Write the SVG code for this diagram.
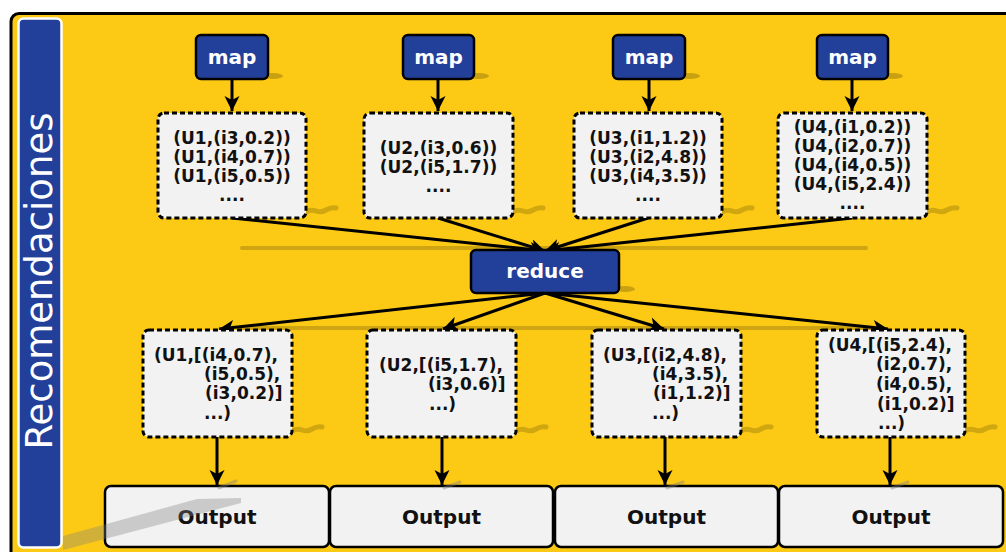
<svg xmlns="http://www.w3.org/2000/svg" width="1006" height="552" viewBox="0 0 1006 552">
<defs>
<marker id="ah" viewBox="-15 -8 17 16" markerWidth="17" markerHeight="16" refX="0" refY="0" orient="auto" markerUnits="userSpaceOnUse">
<path d="M0,0 L-15,-7.5 L-11,0 L-15,7.5 Z" fill="#000"/>
</marker>
<style>
.fn{fill:#22409A;stroke:#000;stroke-width:2.5}
.ft{font-family:"DejaVu Sans",Verdana,sans-serif;font-weight:bold;font-size:20px;fill:#fff;text-anchor:middle}
.db{fill:#F2F2F2;stroke:#000;stroke-width:3;stroke-dasharray:5 3}
.dt{font-family:"DejaVu Sans",Verdana,sans-serif;font-weight:bold;font-size:17px;fill:#111}
.mid{text-anchor:middle}
.ob{fill:#F2F2F2;stroke:#000;stroke-width:2.5}
.ot{font-family:"DejaVu Sans",Verdana,sans-serif;font-weight:bold;font-size:20px;fill:#111;text-anchor:middle}
.cn{stroke:#000;stroke-width:3;fill:none;marker-end:url(#ah)}
.sh{fill:#000;fill-opacity:0.2}
.wv{fill:none;stroke:#000;stroke-opacity:0.17;stroke-width:5;stroke-linecap:round}
.gl{stroke:#000;stroke-opacity:0.18;stroke-width:4;stroke-linecap:round}
</style>
</defs>
<rect width="1006" height="552" fill="#fff"/>
<rect x="11" y="13.5" width="1010" height="560" rx="8" fill="#FCC914" stroke="#000" stroke-width="3"/>
<g id="sidebar">
<rect x="18.5" y="18.5" width="43" height="529" rx="5" fill="#22409A" stroke="#fff" stroke-width="2.5"/>
<text transform="translate(52,281) rotate(-90)" font-family="'DejaVu Sans',Verdana,sans-serif" font-size="37" fill="#fff" text-anchor="middle">Recomendaciones</text>
</g>
<g id="shadows">
<line class="gl" x1="242" y1="248" x2="866" y2="248"/>
<line class="gl" x1="240" y1="328" x2="872" y2="328"/>
<ellipse class="sh" cx="273" cy="76" rx="10" ry="3"/>
<ellipse class="sh" cx="479" cy="76" rx="10" ry="3"/>
<ellipse class="sh" cx="690" cy="76" rx="10" ry="3"/>
<ellipse class="sh" cx="893" cy="76" rx="10" ry="3"/>
<path class="wv" d="M306,212 q5,-3 10,-1 t10,-1 t10,-2"/>
<path class="wv" d="M513,212 q5,-3 10,-1 t10,-1 t10,-2"/>
<path class="wv" d="M722,212 q5,-3 10,-1 t10,-1 t10,-2"/>
<path class="wv" d="M927,212 q5,-3 10,-1 t10,-1 t10,-2"/>
<ellipse class="sh" cx="625" cy="289" rx="10" ry="3"/>
<path class="wv" d="M292,431 q5,-3 10,-1 t10,-1 t10,-2"/>
<path class="wv" d="M516,431 q5,-3 10,-1 t10,-1 t10,-2"/>
<path class="wv" d="M741,431 q5,-3 10,-1 t10,-1 t10,-2"/>
<path class="wv" d="M965,431 q5,-3 10,-1 t10,-1 t10,-2"/>
</g>
<g id="connectors">
<line class="cn" x1="232" y1="79" x2="232" y2="111"/>
<line class="cn" x1="438" y1="79" x2="438" y2="111"/>
<line class="cn" x1="649" y1="79" x2="649" y2="111"/>
<line class="cn" x1="852" y1="79" x2="852" y2="111"/>
<line class="cn" x1="232" y1="218" x2="545" y2="251"/>
<line class="cn" x1="438" y1="218" x2="545" y2="251"/>
<line class="cn" x1="648" y1="218" x2="545" y2="251"/>
<line class="cn" x1="852" y1="218" x2="545" y2="251"/>
<line class="cn" x1="545" y1="293" x2="219" y2="329"/>
<line class="cn" x1="545" y1="293" x2="443" y2="329"/>
<line class="cn" x1="545" y1="293" x2="664" y2="329"/>
<line class="cn" x1="545" y1="293" x2="888" y2="329"/>
<line class="cn" x1="217" y1="437" x2="217" y2="485"/>
<line class="cn" x1="442" y1="437" x2="442" y2="485"/>
<line class="cn" x1="665" y1="437" x2="665" y2="485"/>
<line class="cn" x1="890" y1="437" x2="890" y2="485"/>
</g>
<g id="map1"><rect class="fn" x="196" y="35" width="72" height="44" rx="5"/><text class="ft" x="232" y="64">map</text></g>
<g id="map2"><rect class="fn" x="403" y="35" width="71" height="44" rx="5"/><text class="ft" x="438.5" y="64">map</text></g>
<g id="map3"><rect class="fn" x="613" y="35" width="72" height="44" rx="5"/><text class="ft" x="649" y="64">map</text></g>
<g id="map4"><rect class="fn" x="817" y="35" width="71" height="44" rx="5"/><text class="ft" x="852.5" y="64">map</text></g>
<g id="data1"><rect class="db" x="158" y="113" width="148" height="105" rx="6"/>
<text class="dt mid" x="232" y="144">(U1,(i3,0.2))</text>
<text class="dt mid" x="232" y="163">(U1,(i4,0.7))</text>
<text class="dt mid" x="232" y="182">(U1,(i5,0.5))</text>
<text class="dt mid" x="232" y="201">....</text></g>
<g id="data2"><rect class="db" x="364" y="113" width="149" height="105" rx="6"/>
<text class="dt mid" x="438.5" y="154">(U2,(i3,0.6))</text>
<text class="dt mid" x="438.5" y="173">(U2,(i5,1.7))</text>
<text class="dt mid" x="438.5" y="192">....</text></g>
<g id="data3"><rect class="db" x="574" y="113" width="148" height="105" rx="6"/>
<text class="dt mid" x="648" y="144">(U3,(i1,1.2))</text>
<text class="dt mid" x="648" y="163">(U3,(i2,4.8))</text>
<text class="dt mid" x="648" y="182">(U3,(i4,3.5))</text>
<text class="dt mid" x="648" y="201">....</text></g>
<g id="data4"><rect class="db" x="778" y="113" width="149" height="105" rx="6"/>
<text class="dt mid" x="852.5" y="133">(U4,(i1,0.2))</text>
<text class="dt mid" x="852.5" y="152">(U4,(i2,0.7))</text>
<text class="dt mid" x="852.5" y="171">(U4,(i4,0.5))</text>
<text class="dt mid" x="852.5" y="190">(U4,(i5,2.4))</text>
<text class="dt mid" x="852.5" y="209">....</text></g>
<g id="reduce"><rect class="fn" x="471" y="250" width="148" height="43" rx="5"/><text class="ft" x="545" y="278">reduce</text></g>
<g id="out1"><rect class="db" x="143" y="330" width="149" height="107" rx="6"/>
<text class="dt" x="154" y="361">(U1,[(i4,0.7),</text>
<text class="dt" x="204" y="380">(i5,0.5),</text>
<text class="dt" x="205" y="399">(i3,0.2)]</text>
<text class="dt" x="204" y="419">...)</text></g>
<g id="out2"><rect class="db" x="367" y="330" width="149" height="107" rx="6"/>
<text class="dt" x="379" y="371">(U2,[(i5,1.7),</text>
<text class="dt" x="428" y="390">(i3,0.6)]</text>
<text class="dt" x="429" y="410">...)</text></g>
<g id="out3"><rect class="db" x="592" y="330" width="149" height="107" rx="6"/>
<text class="dt" x="603" y="361">(U3,[(i2,4.8),</text>
<text class="dt" x="652" y="380">(i4,3.5),</text>
<text class="dt" x="653" y="399">(i1,1.2)]</text>
<text class="dt" x="652" y="419">...)</text></g>
<g id="out4"><rect class="db" x="817" y="330" width="148" height="107" rx="6"/>
<text class="dt" x="828" y="351">(U4,[(i5,2.4),</text>
<text class="dt" x="876" y="370">(i2,0.7),</text>
<text class="dt" x="876" y="390">(i4,0.5),</text>
<text class="dt" x="877" y="410">(i1,0.2)]</text>
<text class="dt" x="878" y="429">...)</text></g>
<g id="output1"><rect class="ob" x="105" y="486" width="224" height="61" rx="6"/><text class="ot" x="217" y="524">Output</text></g>
<g id="output2"><rect class="ob" x="330" y="486" width="223" height="61" rx="6"/><text class="ot" x="441.5" y="524">Output</text></g>
<g id="output3"><rect class="ob" x="555" y="486" width="223" height="61" rx="6"/><text class="ot" x="666.5" y="524">Output</text></g>
<g id="output4"><rect class="ob" x="779" y="486" width="224" height="61" rx="6"/><text class="ot" x="891" y="524">Output</text></g>
<g id="overlay-shadows">
<polygon points="63,536 197,499 241,498 241,503 63,550" fill="#808080" fill-opacity="0.35"/>
<line x1="219" y1="488" x2="236" y2="481" stroke="#808080" stroke-opacity="0.4" stroke-width="3" stroke-linecap="round"/>
<line x1="444" y1="488" x2="460" y2="482" stroke="#808080" stroke-opacity="0.4" stroke-width="3" stroke-linecap="round"/>
<line x1="667" y1="488" x2="683" y2="482" stroke="#808080" stroke-opacity="0.4" stroke-width="3" stroke-linecap="round"/>
<line x1="892" y1="488" x2="908" y2="482" stroke="#808080" stroke-opacity="0.4" stroke-width="3" stroke-linecap="round"/>
</g>
</svg>
